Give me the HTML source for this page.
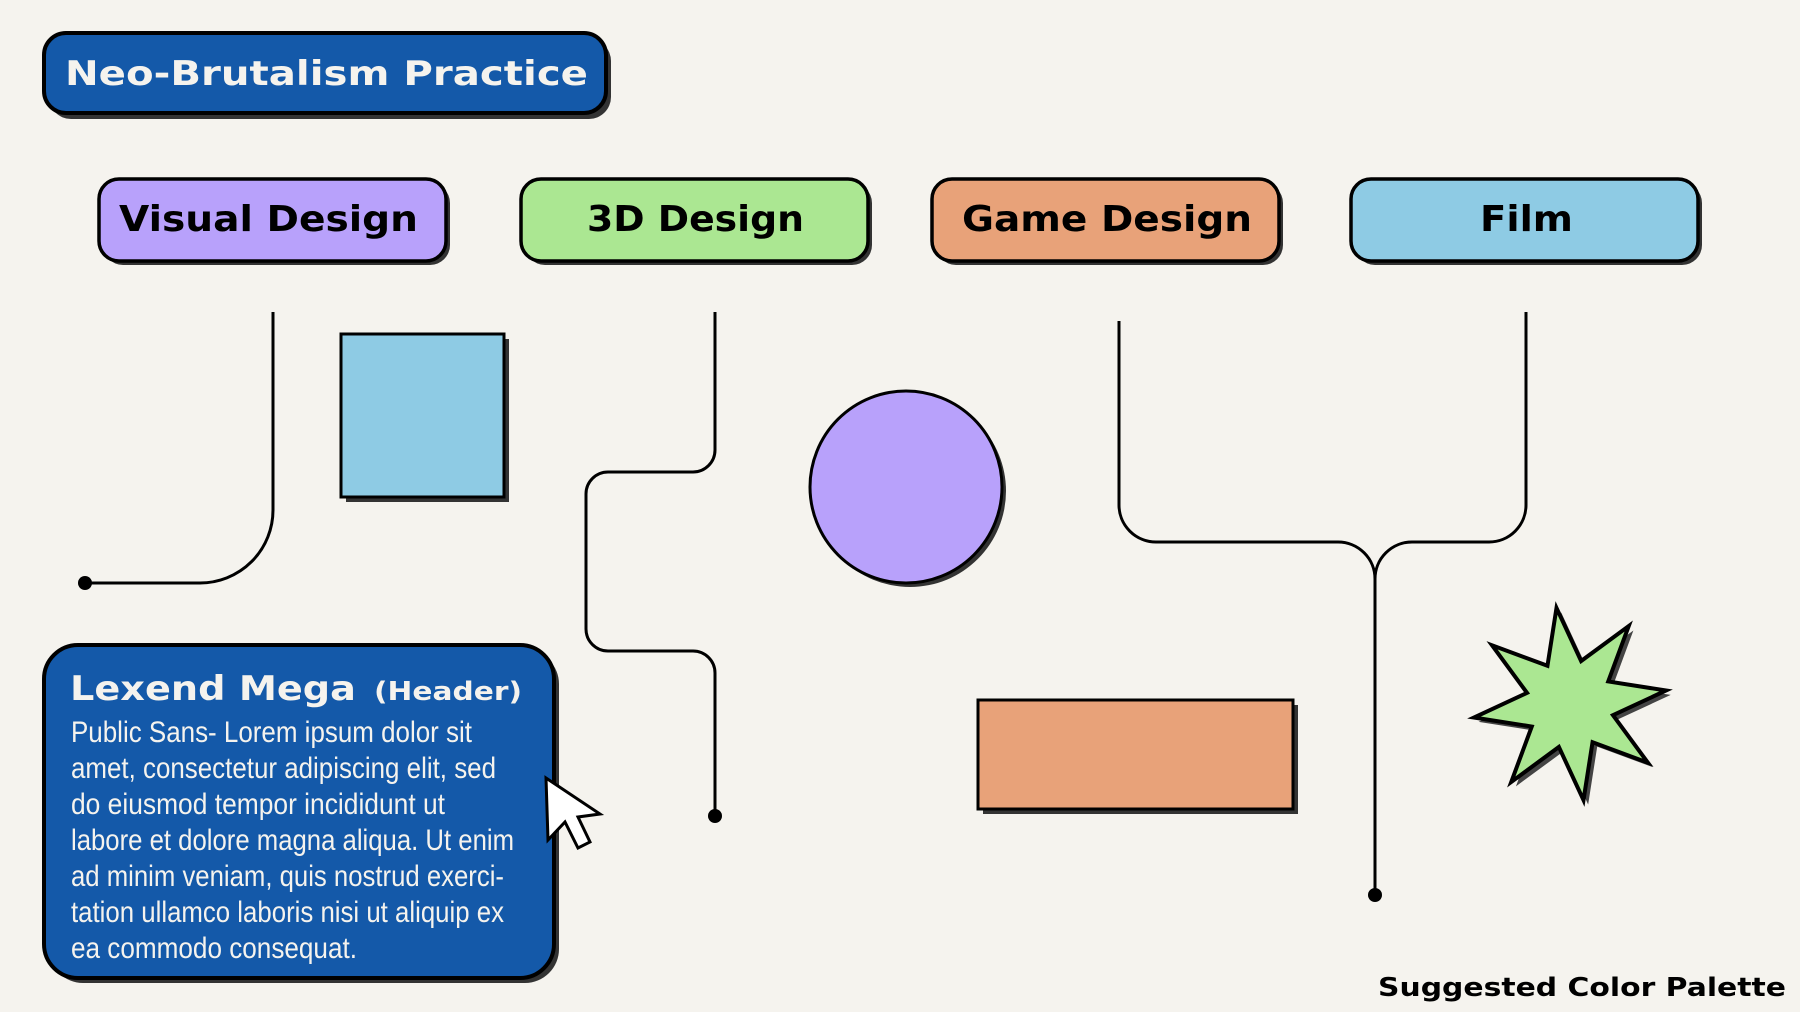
<!DOCTYPE html>
<html><head><meta charset="utf-8"><style>
html,body{margin:0;padding:0;background:#f5f3ee;}
svg{display:block}
.h{font-family:"DejaVu Sans","Liberation Sans",sans-serif;font-weight:bold;}
.b{font-family:"Liberation Sans",sans-serif;}
</style></head><body>
<svg width="1800" height="1012" viewBox="0 0 1800 1012" xmlns="http://www.w3.org/2000/svg">
<rect width="1800" height="1012" fill="#f5f3ee"/>
<!-- title -->
<rect x="49" y="39" width="562" height="80" rx="22" fill="#333"/>
<rect x="44" y="33" width="562" height="80" rx="22" fill="#1459a9" stroke="#000" stroke-width="4"/>
<text x="65" y="85" class="h" font-size="34" fill="#f5f3ee" textLength="523" lengthAdjust="spacingAndGlyphs">Neo-Brutalism Practice</text>
<!-- categories -->
<g stroke="#000" stroke-width="3.5">
<rect x="103" y="183" width="347" height="82" rx="20" fill="#333" stroke="none"/>
<rect x="99" y="179" width="347" height="82" rx="20" fill="#b8a1fb"/>
<rect x="525" y="183" width="347" height="82" rx="20" fill="#333" stroke="none"/>
<rect x="521" y="179" width="347" height="82" rx="20" fill="#abe792"/>
<rect x="936" y="183" width="347" height="82" rx="20" fill="#333" stroke="none"/>
<rect x="932" y="179" width="347" height="82" rx="20" fill="#e8a279"/>
<rect x="1355" y="183" width="347" height="82" rx="20" fill="#333" stroke="none"/>
<rect x="1351" y="179" width="347" height="82" rx="20" fill="#8ecbe4"/>
</g>
<g class="h" font-size="36" fill="#000">
<text x="119" y="231" textLength="299" lengthAdjust="spacingAndGlyphs">Visual Design</text>
<text x="587" y="231" textLength="217" lengthAdjust="spacingAndGlyphs">3D Design</text>
<text x="962" y="231" textLength="290" lengthAdjust="spacingAndGlyphs">Game Design</text>
<text x="1480" y="231" textLength="93" lengthAdjust="spacingAndGlyphs">Film</text>
</g>
<!-- connectors -->
<g fill="none" stroke="#000" stroke-width="3">
<path d="M273 312 V510 A73 73 0 0 1 200 583 H85"/>
<path d="M715 312 V450 A22 22 0 0 1 693 472 H608 A22 22 0 0 0 586 494 V629 A22 22 0 0 0 608 651 H693 A22 22 0 0 1 715 673 V816"/>
<path d="M1119 321 V505 A37 37 0 0 0 1156 542 H1338 A37 37 0 0 1 1375 579 V895"/>
<path d="M1526 312 V505 A37 37 0 0 1 1489 542 H1412 A37 37 0 0 0 1375 579"/>
</g>
<g fill="#000">
<circle cx="85" cy="583" r="7"/>
<circle cx="715" cy="816" r="7"/>
<circle cx="1375" cy="895" r="7"/>
</g>
<!-- shapes -->
<rect x="346" y="339" width="163" height="163" fill="#333"/>
<rect x="341" y="334" width="163" height="163" fill="#8ecbe4" stroke="#000" stroke-width="3"/>
<circle cx="910" cy="491" r="96" fill="#333"/>
<circle cx="906" cy="487" r="96" fill="#b8a1fb" stroke="#000" stroke-width="3"/>
<rect x="983" y="705" width="315" height="109" fill="#333"/>
<rect x="978" y="700" width="315" height="109" fill="#e8a279" stroke="#000" stroke-width="3"/>
<g transform="translate(1570 704) rotate(-8)">
<polygon transform="translate(4 5)" fill="#444" points="0,-97 17,-41 69,-69 41,-17 97,0 41,17 69,69 17,41 0,97 -17,41 -69,69 -41,17 -97,0 -41,-17 -69,-69 -17,-41"/>
<polygon fill="#abe792" stroke="#000" stroke-width="4" stroke-linejoin="miter" points="0,-97 17,-41 69,-69 41,-17 97,0 41,17 69,69 17,41 0,97 -17,41 -69,69 -41,17 -97,0 -41,-17 -69,-69 -17,-41"/>
</g>
<!-- Lexend box -->
<rect x="49" y="650" width="510" height="333" rx="34" fill="#333"/>
<rect x="44" y="645" width="510" height="333" rx="34" fill="#1459a9" stroke="#000" stroke-width="4"/>
<text x="70" y="700" class="h" font-size="34" fill="#f5f3ee" textLength="286" lengthAdjust="spacingAndGlyphs">Lexend Mega</text>
<text x="374" y="700" class="h" font-size="26" fill="#f5f3ee" textLength="148" lengthAdjust="spacingAndGlyphs">(Header)</text>
<g class="b" font-size="30" fill="#f5f3ee">
<text x="71" y="742" textLength="401" lengthAdjust="spacingAndGlyphs">Public Sans- Lorem ipsum dolor sit</text>
<text x="71" y="778" textLength="425" lengthAdjust="spacingAndGlyphs">amet, consectetur adipiscing elit, sed</text>
<text x="71" y="814" textLength="374" lengthAdjust="spacingAndGlyphs">do eiusmod tempor incididunt ut</text>
<text x="71" y="850" textLength="443" lengthAdjust="spacingAndGlyphs">labore et dolore magna aliqua. Ut enim</text>
<text x="71" y="886" textLength="433" lengthAdjust="spacingAndGlyphs">ad minim veniam, quis nostrud exerci-</text>
<text x="71" y="922" textLength="433" lengthAdjust="spacingAndGlyphs">tation ullamco laboris nisi ut aliquip ex</text>
<text x="71" y="958" textLength="286" lengthAdjust="spacingAndGlyphs">ea commodo consequat.</text>
</g>
<!-- cursor -->
<polygon points="546,778 548,840 565,822 578,848 590,842 578,817 600,814" fill="#fff" stroke="#000" stroke-width="3" stroke-linejoin="miter"/>
<text x="1378" y="996" class="h" font-size="26" fill="#000" textLength="408" lengthAdjust="spacingAndGlyphs">Suggested Color Palette</text>
</svg>
</body></html>
